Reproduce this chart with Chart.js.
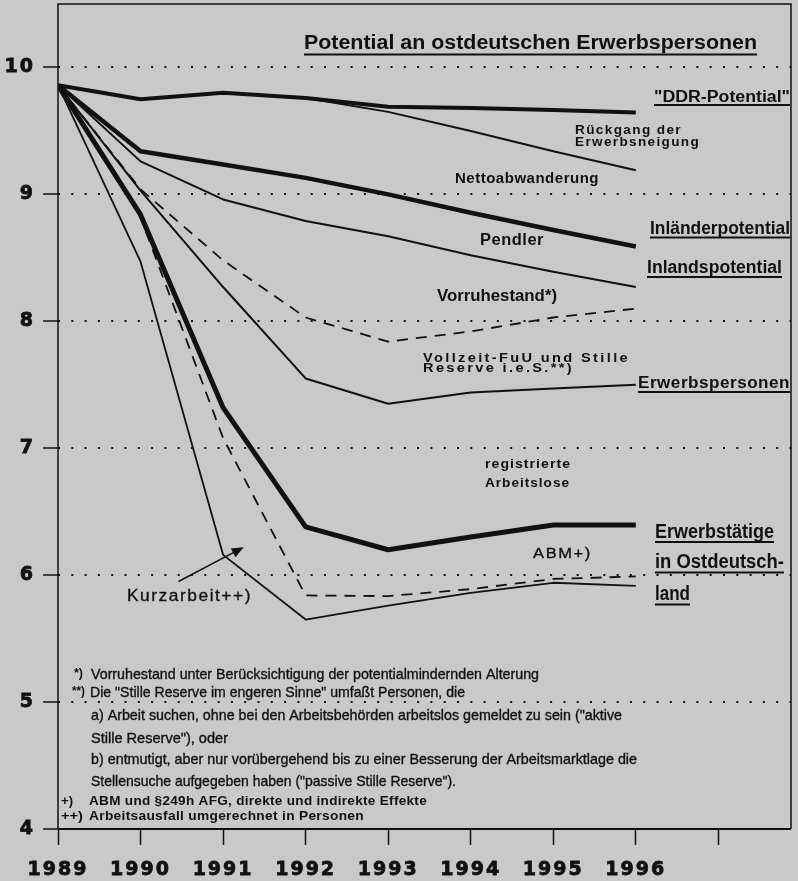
<!DOCTYPE html>
<html>
<head>
<meta charset="utf-8">
<title>Potential an ostdeutschen Erwerbspersonen</title>
<script src="https://cdn.jsdelivr.net/npm/chart.js@4/dist/chart.umd.min.js"></script>
<style>
  html, body { margin: 0; padding: 0; background: #c9c9c9; }
  canvas { display: block; }
</style>
</head>
<body>
<canvas id="chart" width="798" height="881"></canvas>
<script>
// values in millions
const years = [1989, 1990, 1991, 1992, 1993, 1994, 1995, 1996];
const ddrPotential = [9.86, 9.75, 9.80, 9.76, 9.69, 9.68, 9.665, 9.645];
const nachRueckgang = [9.86, 9.75, 9.80, 9.76, 9.65, 9.50, 9.34, 9.19];
const inlaenderpotential = [9.86, 9.34, 9.235, 9.13, 9.0, 8.855, 8.72, 8.59];
const inlandspotential = [9.86, 9.26, 8.96, 8.79, 8.67, 8.52, 8.39, 8.27];
const vorruhestand = [9.86, 9.04, 8.48, 8.03, 7.84, 7.92, 8.03, 8.10];
const erwerbspersonen = [9.86, 9.03, 8.27, 7.55, 7.35, 7.44, 7.47, 7.50];
const erwerbstaetige = [9.86, 8.84, 7.32, 6.38, 6.20, 6.30, 6.395, 6.395];
const abm = [9.86, 8.82, 7.08, 5.84, 5.835, 5.89, 5.97, 5.99];
const kurzarbeit = [9.86, 8.47, 6.16, 5.65, 5.76, 5.86, 5.94, 5.915];

const xTickValues = [1989, 1990, 1991, 1992, 1993, 1994, 1995, 1996, 1997];
const xTickLabels = ["1989", "1990", "1991", "1992", "1993", "1994", "1995", "1996", ""];
const yTickValues = [4, 5, 6, 7, 8, 9, 10];

const ink = "#111111";

function pts(values) {
  return years.map((y, i) => ({ x: y, y: values[i] }));
}

function series(values, width, dash) {
  return {
    data: pts(values),
    borderColor: ink,
    borderWidth: width,
    borderDash: dash || [],
    borderJoinStyle: "round",
    pointRadius: 0,
    tension: 0,
    fill: false,
  };
}

// text on the chart: [text, x, baseline, width, size, weight, underlineY, spacing]
const labels = [
  ["Potential an ostdeutschen Erwerbspersonen", 304, 49, 453, 20, "bold", 53.5, 0],
  ['"DDR-Potential"', 654, 102, 136, 16, "bold", 104, 0],
  ["Rückgang der", 575, 133.5, 107, 12, "bold", null, 1.2],
  ["Erwerbsneigung", 575, 146, 125, 12, "bold", null, 1.2],
  ["Nettoabwanderung", 455, 183, 144, 15, "bold", null, 0.5],
  ["Inländerpotential", 650, 234, 140, 19, "bold", 236.5, 0],
  ["Pendler", 480, 245, 64, 16, "bold", null, 0.5],
  ["Inlandspotential", 647, 273, 135, 18, "bold", 276, 0],
  ["Vorruhestand*)", 437, 300.5, 120, 16.5, "bold", null, 0],
  ["Vollzeit-FuU und Stille", 423, 362, 207, 12.5, "bold", null, 2],
  ["Reserve i.e.S.**)", 423, 372, 151, 12.5, "bold", null, 2],
  ["Erwerbspersonen", 638, 388, 152, 16, "bold", 391, 0.5],
  ["registrierte", 485, 468, 86, 13.5, "bold", null, 1],
  ["Arbeitslose", 485, 486.5, 85, 13.5, "bold", null, 1],
  ["Erwerbstätige", 655, 538, 119, 20, "bold", 541, 0],
  ["in Ostdeutsch-", 655, 568, 129, 20, "bold", 571.5, 0],
  ["land", 655, 600, 35, 20, "bold", 603.5, 0],
  ["ABM+)", 533, 558, 59, 15, "normal", null, 1.5],
  ["Kurzarbeit++)", 127, 601, 125, 17, "normal", null, 1.5],
  ["*)", 74, 677, 9, 12, "bold", null, 0],
  ["Vorruhestand unter Berücksichtigung der potentialmindernden Alterung", 91, 679, 448, 14.5, "normal", null, 0],
  ["**)", 72, 695, 13, 12, "bold", null, 0],
  ['Die "Stille Reserve im engeren Sinne" umfaßt Personen, die', 90, 697, 375, 14.5, "normal", null, 0],
  ['a) Arbeit suchen, ohne bei den Arbeitsbehörden arbeitslos gemeldet zu sein ("aktive', 91, 720, 531, 14.5, "normal", null, 0],
  ['Stille Reserve"), oder', 91, 743, 137, 14.5, "normal", null, 0],
  ["b) entmutigt, aber nur vorübergehend bis zu einer Besserung der Arbeitsmarktlage die", 91, 764, 546, 14.5, "normal", null, 0],
  ['Stellensuche aufgegeben haben ("passive Stille Reserve").', 91, 786, 365, 14.5, "normal", null, 0],
  ["+)", 61, 805, 12, 13, "bold", null, 0],
  ["ABM und §249h AFG, direkte und indirekte Effekte", 89, 805, 338, 13.5, "bold", null, 0.3],
  ["++)", 61, 820, 22, 13, "bold", null, 0],
  ["Arbeitsausfall umgerechnet in Personen", 89, 820, 275, 13.5, "bold", null, 0.3],
];

function drawLabel(ctx, l) {
  const [txt, x, base, w, size, weight, ul, sp] = l;
  ctx.save();
  ctx.font = weight + " " + size + "px 'Liberation Sans', Arial, sans-serif";
  ctx.letterSpacing = sp + "px";
  ctx.textAlign = "left";
  ctx.textBaseline = "alphabetic";
  ctx.fillStyle = ink;
  ctx.strokeStyle = ink;
  const nat = ctx.measureText(txt).width;
  ctx.translate(x, base);
  ctx.scale(w / nat, 1);
  ctx.fillText(txt, 0, 0);
  if (weight === "normal" && size > 14) {
    // the print is a little heavier than a plain regular face
    ctx.lineWidth = 0.35;
    ctx.strokeText(txt, 0, 0);
  }
  ctx.restore();
  if (ul !== null) {
    ctx.fillStyle = ink;
    ctx.fillRect(x, ul, w, 2);
  }
}

const decorPlugin = {
  id: "decor",
  beforeDraw(chart) {
    // wide tick numerals
    chart.ctx.letterSpacing = "2px";
  },
  beforeDatasetsDraw(chart) {
    chart.ctx.letterSpacing = "0px";
  },
  afterDraw(chart) {
    const ctx = chart.ctx;
    const a = chart.chartArea;
    const xs = chart.scales.x;
    const ys = chart.scales.y;
    ctx.save();
    ctx.strokeStyle = ink;
    ctx.lineWidth = 1.5;
    ctx.beginPath();
    ctx.moveTo(a.left, a.bottom);
    ctx.lineTo(a.left, a.top);
    ctx.lineTo(a.right, a.top);
    ctx.lineTo(a.right, a.bottom);
    ctx.stroke();
    ctx.lineWidth = 2;
    ctx.beginPath();
    ctx.moveTo(a.left, a.bottom);
    ctx.lineTo(a.right, a.bottom);
    ctx.stroke();

    // arrow pointing at the Kurzarbeit gap
    const x0 = xs.getPixelForValue(1990.46), y0 = ys.getPixelForValue(5.95);
    const x1 = xs.getPixelForValue(1991.25), y1 = ys.getPixelForValue(6.22);
    const ang = Math.atan2(y1 - y0, x1 - x0);
    ctx.lineWidth = 1.5;
    ctx.beginPath();
    ctx.moveTo(x0, y0);
    ctx.lineTo(x1 - 8 * Math.cos(ang), y1 - 8 * Math.sin(ang));
    ctx.stroke();
    ctx.fillStyle = ink;
    ctx.beginPath();
    ctx.moveTo(x1, y1);
    ctx.lineTo(x1 - 12 * Math.cos(ang) + 5 * Math.sin(ang), y1 - 12 * Math.sin(ang) - 5 * Math.cos(ang));
    ctx.lineTo(x1 - 12 * Math.cos(ang) - 5 * Math.sin(ang), y1 - 12 * Math.sin(ang) + 5 * Math.cos(ang));
    ctx.closePath();
    ctx.fill();
    ctx.restore();

    labels.forEach((l) => drawLabel(ctx, l));
  },
};

const tickFont = { family: "'DejaVu Sans', sans-serif", weight: "bold", size: 19 };

new Chart(document.getElementById("chart"), {
  type: "line",
  data: {
    datasets: [
      series(ddrPotential, 4),
      series(inlaenderpotential, 4.5),
      series(erwerbstaetige, 5),
      series(nachRueckgang, 2),
      series(inlandspotential, 2),
      series(erwerbspersonen, 2),
      series(kurzarbeit, 1.8),
      series(vorruhestand, 1.8, [11, 8]),
      series(abm, 1.8, [11, 8]),
    ],
  },
  options: {
    responsive: false,
    animation: false,
    layout: { padding: { top: 4, right: 7, left: 0, bottom: 0 } },
    plugins: {
      legend: { display: false },
      tooltip: { enabled: false },
      title: { display: false },
    },
    scales: {
      x: {
        type: "linear",
        min: 1989,
        max: 1997.88,
        afterBuildTicks: (s) => {
          s.ticks = xTickValues.map((v) => ({ value: v }));
        },
        afterFit: (s) => {
          s.height = 52;
          s.paddingLeft = 0;
          s.paddingRight = 0;
        },
        grid: {
          drawOnChartArea: false,
          drawTicks: true,
          tickLength: 16,
          tickColor: ink,
          tickWidth: 1.5,
        },
        border: { display: false },
        ticks: {
          autoSkip: false,
          maxRotation: 0,
          padding: 14,
          color: ink,
          textStrokeColor: ink,
          textStrokeWidth: 0.8,
          font: tickFont,
          callback: (v, i) => xTickLabels[i] || "",
        },
      },
      y: {
        min: 4,
        max: 10.5,
        afterBuildTicks: (s) => {
          s.ticks = yTickValues.map((v) => ({ value: v }));
        },
        afterFit: (s) => {
          s.width = 58;
          s.paddingTop = 0;
          s.paddingBottom = 0;
        },
        grid: {
          color: ink,
          lineWidth: 2,
          tickLength: 15,
          tickColor: ink,
          tickWidth: 1.5,
          tickBorderDash: [],
        },
        border: { display: false, dash: [2, 11.3] },
        ticks: {
          padding: 8,
          color: ink,
          textStrokeColor: ink,
          textStrokeWidth: 0.8,
          font: tickFont,
          callback: (v) => String(v),
        },
      },
    },
  },
  plugins: [decorPlugin],
});
</script>
</body>
</html>
